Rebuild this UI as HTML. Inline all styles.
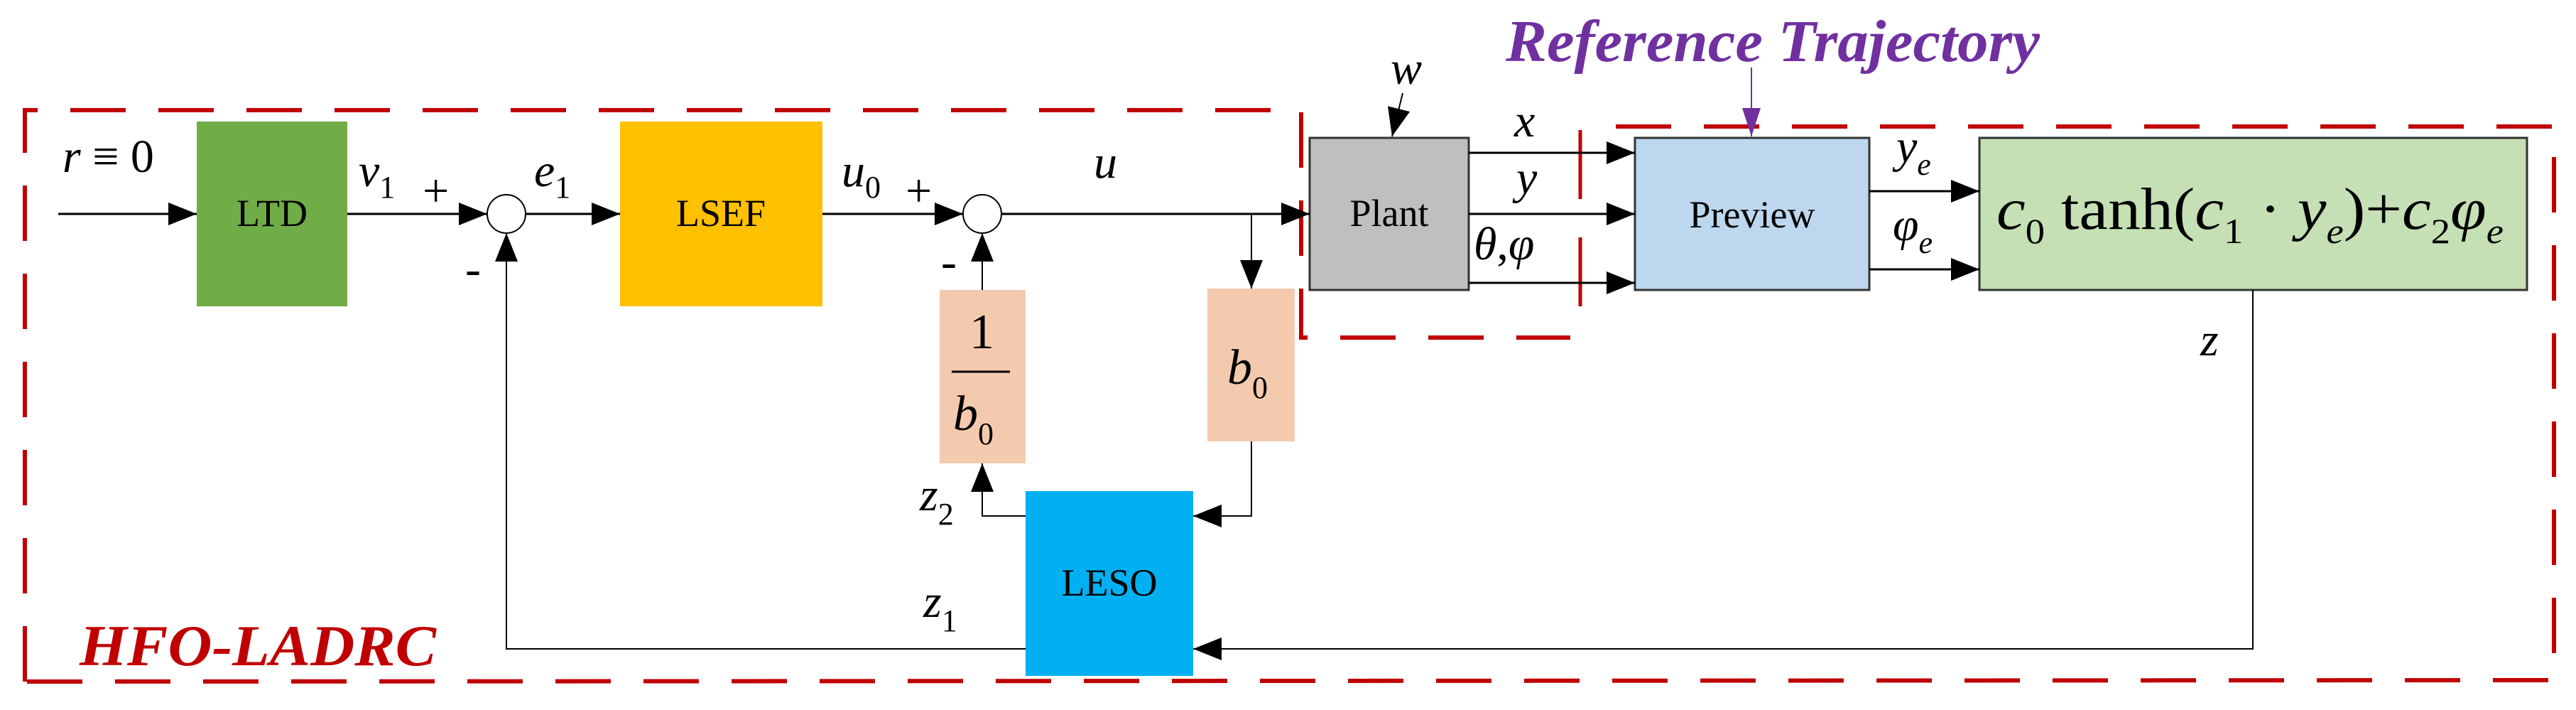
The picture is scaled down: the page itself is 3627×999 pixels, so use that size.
<!DOCTYPE html>
<html><head><meta charset="utf-8"><style>
html,body{margin:0;padding:0;background:#fff;}
svg{display:block;}
text{font-family:"Liberation Serif",serif;}
.i{font-style:italic;}
</style></head><body>
<svg width="3627" height="999" viewBox="0 0 3627 999" xmlns="http://www.w3.org/2000/svg">
<defs>
<marker id="A" viewBox="0 0 10 10" refX="10" refY="5" markerWidth="40" markerHeight="32" markerUnits="userSpaceOnUse" orient="auto" preserveAspectRatio="none"><path d="M0,0 L10,5 L0,10z" fill="#000"/></marker>
<marker id="P" viewBox="0 0 10 10" refX="10" refY="5" markerWidth="40" markerHeight="26" markerUnits="userSpaceOnUse" orient="auto" preserveAspectRatio="none"><path d="M0,0 L10,5 L0,10z" fill="#7030A0"/></marker>
</defs>
<g fill="none" stroke="#C00000" stroke-width="6" stroke-dasharray="78,46">
<path d="M35,959 L35,155 L1832,155 L1832,475 L2211,475"/>
<path d="M2275,178 L3596,178 L3596,957 L35,959"/>
</g>
<g stroke="#C00000" stroke-width="5">
<line x1="2225" y1="183" x2="2225" y2="280"/>
<line x1="2225" y1="334" x2="2225" y2="431"/>
</g>
<rect x="277" y="171" width="212" height="260" fill="#70AD47"/>
<rect x="873" y="171" width="285" height="260" fill="#FFC000"/>
<rect x="1323" y="408" width="121" height="244" fill="#F4CAAE"/>
<rect x="1700" y="406" width="123" height="215" fill="#F4CAAE"/>
<rect x="1444" y="691" width="236" height="260" fill="#00B0F0"/>
<rect x="1844" y="194" width="224" height="214" fill="#BFBFBF" stroke="#333" stroke-width="3"/>
<rect x="2302" y="194" width="330" height="214" fill="#BDD7EE" stroke="#333" stroke-width="3"/>
<rect x="2787" y="194" width="771" height="214" fill="#C5E0B4" stroke="#333" stroke-width="3"/>
<circle cx="713" cy="301" r="27" fill="#fff" stroke="#000" stroke-width="2"/>
<circle cx="1383" cy="301" r="27" fill="#fff" stroke="#000" stroke-width="2"/>
<g stroke="#000" stroke-width="3" fill="none" marker-end="url(#A)">
<line x1="82" y1="301" x2="277" y2="301"/>
<line x1="489" y1="301" x2="686" y2="301"/>
<line x1="740" y1="301" x2="873" y2="301"/>
<line x1="1158" y1="301" x2="1356" y2="301"/>
<line x1="1410" y1="301" x2="1844" y2="301"/>
<line x1="1762" y1="301" x2="1762" y2="406" stroke-width="2"/>
<line x1="1383" y1="408" x2="1383" y2="328" stroke-width="2"/>
<polyline points="1444,726 1383,726 1383,652" stroke-width="2"/>
<polyline points="1762,621 1762,726 1680,726" stroke-width="2"/>
<polyline points="1444,913 713,913 713,328" stroke-width="2"/>
<polyline points="3172,408 3172,913 1680,913" stroke-width="2"/>
<line x1="2068" y1="215" x2="2302" y2="215"/>
<line x1="2068" y1="301" x2="2302" y2="301"/>
<line x1="2068" y1="398" x2="2302" y2="398"/>
<line x1="2632" y1="269" x2="2787" y2="269"/>
<line x1="2632" y1="379" x2="2787" y2="379"/>
<line x1="1975" y1="131" x2="1960" y2="192" stroke-width="2"/>
</g>
<line x1="2466" y1="95" x2="2466" y2="192" stroke="#7030A0" stroke-width="2" marker-end="url(#P)"/>
<g font-size="54" text-anchor="middle">
<text x="383" y="318">LTD</text>
<text x="1015" y="318">LSEF</text>
<text x="1562" y="838">LESO</text>
<text x="1956" y="318">Plant</text>
<text x="2467" y="320">Preview</text>
</g>
<g font-size="66">
<text x="88" y="242"><tspan class="i">r</tspan> ≡ 0</text>
<text x="505" y="262"><tspan class="i">v</tspan><tspan font-size="44" dy="16">1</tspan></text>
<text x="595" y="290">+</text>
<text x="752" y="262"><tspan class="i">e</tspan><tspan font-size="44" dy="16">1</tspan></text>
<text x="1185" y="262"><tspan class="i">u</tspan><tspan font-size="44" dy="16">0</tspan></text>
<text x="1275" y="290">+</text>
<text x="1540" y="250" class="i">u</text>
<text x="655" y="400">-</text>
<text x="1325" y="390">-</text>
<text x="1365" y="490" font-size="70">1</text>
<line x1="1340" y1="523" x2="1422" y2="523" stroke="#000" stroke-width="3"/>
<text x="1342" y="605" font-size="70"><tspan class="i">b</tspan><tspan font-size="44" dy="20">0</tspan></text>
<text x="1728" y="540" font-size="70"><tspan class="i">b</tspan><tspan font-size="44" dy="20">0</tspan></text>
<text x="1295" y="718"><tspan class="i">z</tspan><tspan font-size="44" dy="20">2</tspan></text>
<text x="1300" y="868"><tspan class="i">z</tspan><tspan font-size="44" dy="20">1</tspan></text>
<text x="3098" y="500" class="i">z</text>
<text x="1958" y="118" class="i">w</text>
<text x="2132" y="192" class="i">x</text>
<text x="2135" y="272" class="i">y</text>
<text x="2075" y="365"><tspan class="i">θ</tspan>,<tspan class="i">φ</tspan></text>
<text x="2670" y="228"><tspan class="i">y</tspan><tspan font-size="44" dy="18" class="i">e</tspan></text>
<text x="2665" y="338"><tspan class="i">φ</tspan><tspan font-size="44" dy="18" class="i">e</tspan></text>
</g>
<text x="2811" y="322" font-size="84" textLength="714" lengthAdjust="spacingAndGlyphs"><tspan class="i">c</tspan><tspan font-size="50" dy="20">0</tspan><tspan dy="-20"> tanh(</tspan><tspan class="i">c</tspan><tspan font-size="50" dy="20">1</tspan><tspan dy="-20"> · </tspan><tspan class="i">y</tspan><tspan font-size="50" dy="20" class="i">e</tspan><tspan dy="-20">)+</tspan><tspan class="i">c</tspan><tspan font-size="50" dy="20">2</tspan><tspan dy="-20" class="i">φ</tspan><tspan font-size="50" dy="20" class="i">e</tspan></text>
<text x="2120" y="86" font-size="84" font-weight="bold" class="i" fill="#7030A0" textLength="752" lengthAdjust="spacingAndGlyphs">Reference Trajectory</text>
<text x="112" y="936" font-size="82" font-weight="bold" class="i" fill="#C00000" textLength="502" lengthAdjust="spacingAndGlyphs">HFO-LADRC</text>
</svg>
</body></html>
